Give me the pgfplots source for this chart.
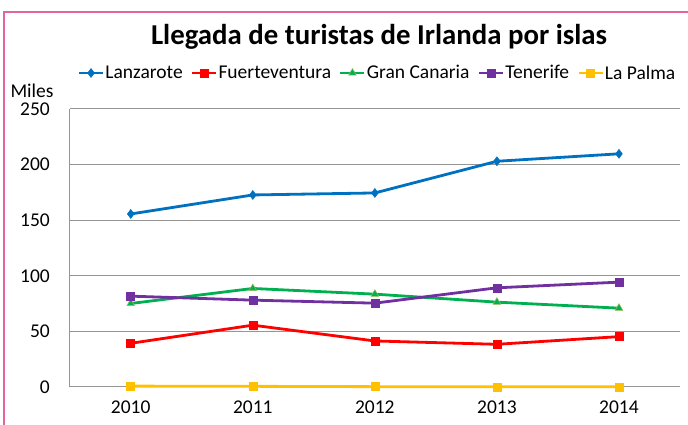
\documentclass[border=0pt]{standalone}
\usepackage{pgfplots}
\pgfplotsset{compat=1.18}
\usepackage{fontspec}
\setmainfont{Carlito}
\definecolor{cLan}{RGB}{0,112,192}
\definecolor{cFue}{RGB}{255,0,0}
\definecolor{cGC}{RGB}{0,176,80}
\definecolor{cGCedge}{RGB}{155,187,89}
\definecolor{cTen}{RGB}{112,48,160}
\definecolor{cLP}{RGB}{255,192,0}
\definecolor{cBorder}{RGB}{228,100,160}
\definecolor{gridgray}{RGB}{150,150,150}
\begin{document}
\begin{tikzpicture}[x=1pt,y=1pt]
\useasboundingbox (0,0) rectangle (688,425);
\fill[cBorder] (2.9,0) rectangle (4.7,414.3);
\fill[cBorder] (2.9,411.9) rectangle (688,414.3);
\pgfinterruptboundingbox
\node[font=\fontsize{28.8}{34}\selectfont\bfseries] at (379,388) {Llegada de turistas de Irlanda por islas};
\node[font=\fontsize{19.5}{23}\selectfont] at (32,334) {Miles};
\begin{axis}[
  at={(69.7pt,38pt)}, anchor=south west,
  width=610.3pt, height=278pt, scale only axis,
  xmin=-0.5, xmax=4.5, ymin=0, ymax=250,
  xtick={0,1,2,3,4}, xticklabels={2010,2011,2012,2013,2014},
  ytick={0,50,100,150,200,250},
  axis lines*=left,
  axis line style={draw=gridgray, line width=1pt, -},
  major tick length=0pt,
  ymajorgrids, grid style={draw=gridgray, line width=1pt},
  tick label style={font=\fontsize{19.5}{23}\selectfont},
  /pgf/number format/assume math mode=true,
  yticklabel style={inner sep=0pt, xshift=-19.7pt},
  xticklabel style={inner sep=0pt, yshift=-14pt},
  clip=false,
  legend columns=-1,
  legend style={at={(axis description cs:0.5035,1.1295)}, anchor=center,
    draw=none, fill=none, font=\fontsize{19.5}{23}\selectfont,
    nodes={inner sep=1pt},
    /tikz/every odd column/.append style={column sep=0pt},
    /tikz/every even column/.append style={column sep=7pt}},
  legend image code/.code={\draw[mark repeat=2,mark phase=2] plot coordinates {(0pt,0pt) (12pt,0pt) (24pt,0pt)};},
]
\addplot[color=cLan, line width=2.8pt, mark=diamond*, mark size=4.5pt, mark options={solid, line width=0.5pt}]
  coordinates {(0,155.6) (1,172.7) (2,174.5) (3,203.0) (4,209.7)};
\addlegendentry{Lanzarote}
\addplot[color=cFue, line width=2.8pt, mark=square*, mark size=4pt, mark options={solid, line width=0.5pt}]
  coordinates {(0,39.3) (1,55.6) (2,41.4) (3,38.4) (4,45.3)};
\addlegendentry{Fuerteventura}
\addplot[color=cGC, line width=2.8pt, mark=triangle*, mark size=4.5pt, mark options={solid, line width=0.5pt, draw=cGCedge, fill=cGC}]
  coordinates {(0,75.1) (1,88.6) (2,83.5) (3,76.3) (4,70.9)};
\addlegendentry{Gran Canaria}
\addplot[color=cTen, line width=2.8pt, mark=square*, mark size=4pt, mark options={solid, line width=0.5pt}]
  coordinates {(0,81.7) (1,78.1) (2,75.4) (3,89.2) (4,94.3)};
\addlegendentry{Tenerife}
\addplot[color=cLP, line width=2.8pt, mark=square*, mark size=4pt, mark options={solid, line width=0.5pt}]
  coordinates {(0,0.8) (1,0.6) (2,0.3) (3,0.2) (4,0.2)};
\addlegendentry{La Palma}
\end{axis}
\endpgfinterruptboundingbox
\end{tikzpicture}
\end{document}
